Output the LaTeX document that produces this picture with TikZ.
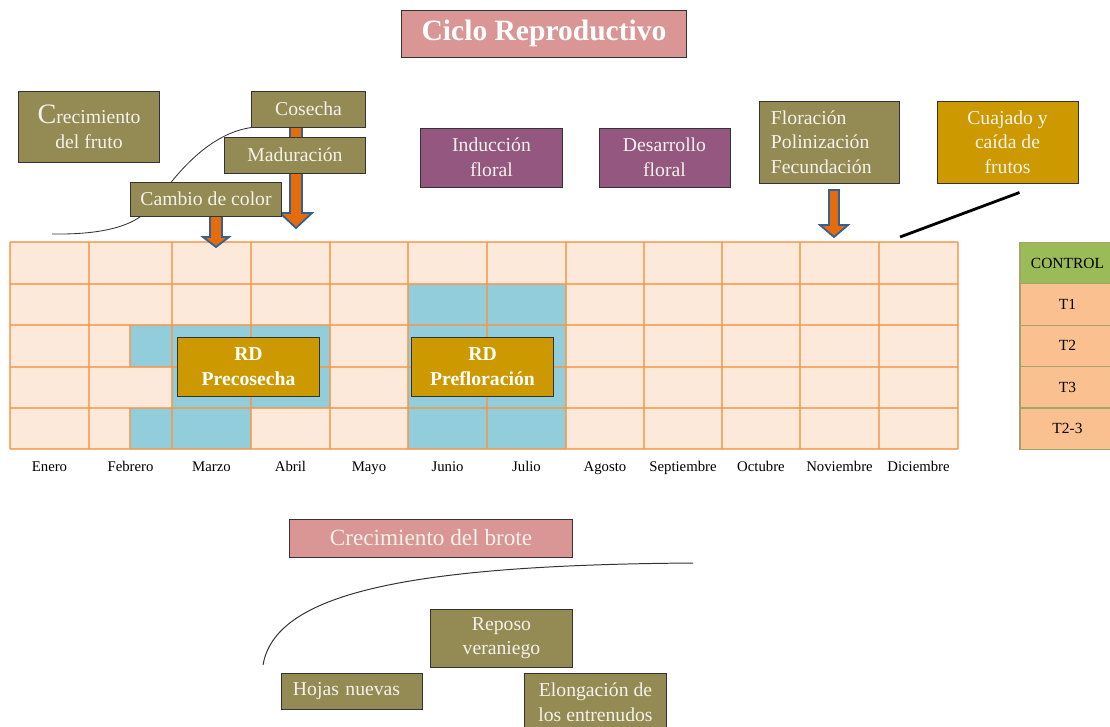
\documentclass[tikz,border=0pt]{standalone}
\usepackage{fontspec}
\setmainfont{Liberation Serif}
\usepackage{tikz}
\usetikzlibrary{positioning}
\usetikzlibrary{backgrounds}

\definecolor{olivefill}{HTML}{948A54}
\definecolor{purplefill}{HTML}{935780}
\definecolor{goldfill}{HTML}{CC9900}
\definecolor{pinkfill}{HTML}{D99694}
\definecolor{textcream}{HTML}{F4F2EC}
\definecolor{gridfill}{HTML}{FDE9D9}
\definecolor{gridorange}{HTML}{F79646}
\definecolor{rdblue}{HTML}{92CDDC}
\definecolor{ctrlgreen}{HTML}{9BBB59}
\definecolor{tpeach}{HTML}{FAC090}
\definecolor{legline}{HTML}{A3A46A}
\definecolor{arroworange}{HTML}{E46C0A}
\definecolor{arrowblue}{HTML}{376092}

\tikzset{
box/.style={draw=black!80, line width=0.7pt, text=textcream, align=center, inner sep=0pt, font=\fontsize{14}{17.5}\selectfont},
olivebox/.style={box, fill=olivefill},
purplebox/.style={box, fill=purplefill},
goldbox/.style={box, fill=goldfill},
pinkbox/.style={box, fill=pinkfill},
rdbox/.style={goldbox, text=white, minimum width=3.525cm, minimum height=1.475cm, font=\bfseries\fontsize{14}{17.5}\selectfont},
gridline/.style={draw=gridorange, line width=1.3pt, opacity=0.75},
month/.style={font=\fontsize{10.5}{12}\selectfont, text height=7.5pt, text depth=2.5pt, inner sep=0pt},
legcell/.style={draw=legline, line width=0.8pt, minimum width=2.375cm, minimum height=1.035cm, outer sep=0pt, inner sep=0pt, font=\fontsize{11}{13}\selectfont},
blockarrow/.style={fill=arroworange, draw=arrowblue, line width=1.3pt, line join=miter},
curveline/.style={draw=black!80, line width=0.6pt}
}

% x, top, tip, half shaft, half head, head length
\newcommand{\blockarrow}[6]{%
\draw[blockarrow] (#1-#4,#2) -- (#1+#4,#2) -- (#1+#4,#3-#6) -- (#1+#5,#3-#6) -- (#1,#3)
    -- (#1-#5,#3-#6) -- (#1-#4,#3-#6) -- cycle;}

\begin{document}
\begin{tikzpicture}[x=0.025cm, y=-0.025cm]
\useasboundingbox (0,0) rectangle (1110,726);

\draw
    (544,33.5) node [pinkbox, name=title, minimum width=7.1cm, minimum height=1.175cm, text=white, font=\bfseries\fontsize{21}{25}\selectfont] {Ciclo Reproductivo}
    (89,126.5) node [olivebox, name=fruto, minimum width=3.5cm, minimum height=1.775cm] {{\fontsize{20}{20}\selectfont C}recimiento\\del fruto}
    (308.5,109) node [olivebox, name=cosecha, minimum width=2.825cm, minimum height=0.9cm] {Cosecha}
    (295,155) node [olivebox, name=maduracion, minimum width=3.5cm, minimum height=0.9cm] {Maduración}
    (206,199) node [olivebox, name=cambio, minimum width=3.75cm, minimum height=0.85cm] {Cambio de color}
    (491.5,157.5) node [purplebox, name=induccion, minimum width=3.525cm, minimum height=1.475cm] {Inducción\\floral}
    (664.5,157.5) node [purplebox, name=desarrollo, minimum width=3.275cm, minimum height=1.475cm] {Desarrollo\\floral}
    (829,142) node [olivebox, name=floracion, minimum height=2.05cm, text width=2.9cm, inner xsep=0.3cm, align=left] {Floración\\Polinización\\Fecundación}
    (1007.5,142) node [goldbox, name=cuajado, minimum width=3.525cm, minimum height=2.05cm] {Cuajado y\\caída de\\frutos}
;

\draw
    (248.5,366.5) node [rdbox, name=rd precosecha] {RD\\Precosecha}
    (482.5,366.5) node [rdbox, name=rd prefloracion] {RD\\Prefloración}
;

\foreach \mes/\x [count=\i] in {Enero/49.5, Febrero/130.5, Marzo/211.5, Abril/290.5, Mayo/369, Junio/447.5, Julio/526.5, Agosto/605, Septiembre/683, Octubre/761, Noviembre/839.5, Diciembre/918.5}
    \node [month] (mes\i) at (\x,468) {\mes};

\node [legcell, fill=ctrlgreen] (control) at (1067.5,263) {CONTROL};
\node [legcell, fill=tpeach, below=0pt of control] (t1) {T1};
\node [legcell, fill=tpeach, below=0pt of t1] (t2) {T2};
\node [legcell, fill=tpeach, below=0pt of t2] (t3) {T3};
\node [legcell, fill=tpeach, below=0pt of t3] (t23) {T2-3};

\draw
    (431,538) node [pinkbox, name=brote, minimum width=7.05cm, minimum height=0.95cm, font=\fontsize{16.5}{20}\selectfont] {Crecimiento del brote}
    (501.5,638) node [olivebox, name=reposo, minimum width=3.525cm, minimum height=1.45cm] {Reposo\\veraniego}
    (352,691) node [olivebox, name=hojas, minimum height=0.9cm, text width=2.95cm, inner xsep=0.275cm, align=left] {Hojas nuevas}
    (595.5,702) node [olivebox, name=elongacion, minimum width=3.525cm, minimum height=1.45cm] {Elongación de\\los entrenudos}
;

\coordinate (fruto start) at (52,234);
\coordinate (brote start) at (263,665);
\coordinate (brote end) at (693,563);
\coordinate (cuajado end) at (900,237);

\begin{pgfonlayer}{background}
\fill[gridfill] (10,242) rectangle (958,449);
\fill[rdblue] (130,325) rectangle (330,367) (172,367) rectangle (330,408)
    (130,408) rectangle (251,449) (408,284) rectangle (566,449);
\foreach \y in {242,284,325,367,408,449}
    \draw[gridline] (10,\y) -- (958,\y);
\foreach \x in {10,89,172,251,330,408,487,566,644,722,800,879,958}
    \draw[gridline] (\x,242) -- (\x,449);
\draw[gridline] (130,325) -- (130,367) (130,408) -- (130,449);

\blockarrow{296}{127}{228}{6}{16}{15}
\blockarrow{216}{216}{247}{6}{13}{10}
\blockarrow{834}{190}{237}{5}{14}{12}

\draw[curveline] (fruto start) .. controls (125,235) and (145,217) .. (158,199)
    .. controls (172,181) and (205,134) .. (cosecha.south west);
\end{pgfonlayer}

\draw[curveline, line width=0.7pt] (brote start) .. controls (275,595) and (400,565) .. (brote end);
\draw[line width=2pt] ([shift={(12,9)}]cuajado.south) -- (cuajado end);

\end{tikzpicture}
\end{document}
